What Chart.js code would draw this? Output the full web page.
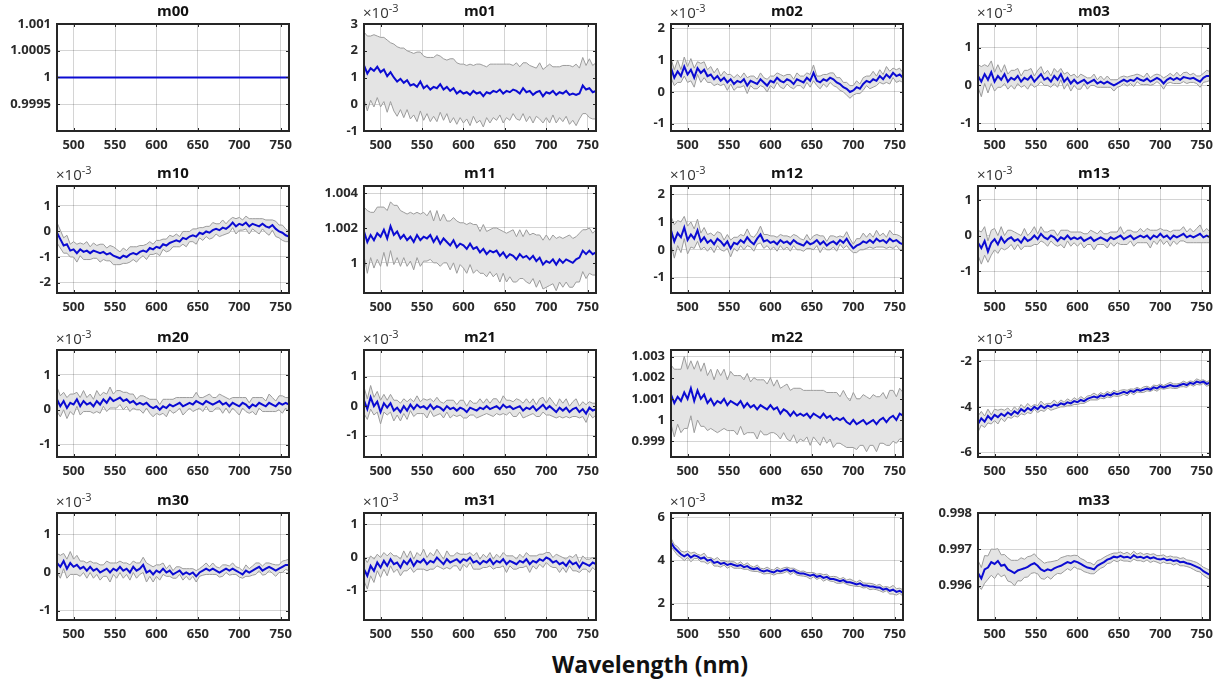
<!DOCTYPE html>
<html>
<head>
<meta charset="utf-8">
<script src="https://cdn.jsdelivr.net/npm/chart.js@4.4.1/dist/chart.umd.min.js"></script>
<style>
  body { margin: 0; background: #fff; width: 1230px; height: 688px; position: relative; overflow: hidden; font-family: 'Open Sans', sans-serif; }
  canvas { position: absolute; }
  .ttl { position: absolute; width: 120px; text-align: center; font-weight: 700; font-size: 15px; line-height: 16px; color: #111; }
  .exp { position: absolute; font-size: 15px; line-height: 16px; color: #333; white-space: nowrap; }
  .exp sup { font-size: 11px; vertical-align: 0; position: relative; top: -6px; }
  #xlab { position: absolute; left: 0; width: 1300px; top: 648px; text-align: center; font-weight: 700; font-size: 23px; color: #111; }
</style>
</head>
<body>
<div id="xlab">Wavelength (nm)</div>
<script>
// wavelength grid (nm)
const wavelengths = [480,484,488,492,496,500,504,508,512,516,520,524,528,532,536,540,544,548,552,556,
  560,564,568,572,576,580,584,588,592,596,600,604,608,612,616,620,624,628,632,636,
  640,644,648,652,656,660,664,668,672,676,680,684,688,692,696,700,704,708,712,716,
  720,724,728,732,736,740,744,748,752,756,760];
const xTicks = [500, 550, 600, 650, 700, 750];

// m00 is flat
const m00Wave = [480, 760];
const m00Mean = [1, 1];
const m00Sd = [0, 0];

// mean and std per element (x1e-3 where the axis says so)
const m01Mean = [1.45,1.15,1.35,1.25,1.4,1.2,1.3,1.05,1.2,1.0,
  0.85,0.95,0.8,0.9,0.7,0.75,0.65,0.85,0.6,0.7,
  0.55,0.65,0.6,0.75,0.55,0.65,0.5,0.6,0.4,0.5,
  0.4,0.45,0.35,0.5,0.4,0.45,0.3,0.45,0.4,0.5,
  0.45,0.55,0.4,0.5,0.45,0.55,0.5,0.4,0.6,0.45,
  0.5,0.35,0.45,0.5,0.3,0.45,0.4,0.5,0.35,0.45,
  0.4,0.5,0.35,0.4,0.35,0.4,0.7,0.55,0.6,0.45,0.5];
const m01Sd = [1.25,1.4,1.2,1.35,1.15,1.3,1.2,1.35,1.1,1.25,
  1.3,1.15,1.3,1.1,1.25,1.15,1.3,1.1,1.2,1.05,
  1.2,1.1,1.25,1.05,1.15,1.0,1.2,1.1,1.15,1.0,
  1.1,1.0,1.15,0.95,1.1,1.05,1.15,0.95,1.1,1.0,
  1.05,0.95,1.1,1.0,1.05,0.9,1.05,1.0,0.95,1.1,
  0.95,1.05,0.9,1.05,1.0,0.95,1.1,0.9,1.05,0.95,
  1.05,0.95,1.1,1.0,1.15,0.95,1.05,0.9,1.1,1.0,1.05];

const m02Mean = [0.75,0.45,0.65,0.5,0.8,0.55,0.7,0.45,0.75,0.6,
  0.7,0.5,0.55,0.4,0.5,0.35,0.45,0.3,0.4,0.25,
  0.35,0.3,0.4,0.2,0.35,0.3,0.25,0.4,0.3,0.2,
  0.35,0.3,0.45,0.35,0.3,0.4,0.35,0.25,0.4,0.35,
  0.3,0.45,0.35,0.6,0.35,0.3,0.4,0.35,0.45,0.4,
  0.3,0.25,0.15,0.1,0.0,0.05,0.15,0.1,0.25,0.35,
  0.3,0.4,0.35,0.5,0.4,0.55,0.45,0.6,0.5,0.55,0.45];
const m02Sd = [0.3,0.25,0.35,0.2,0.3,0.25,0.35,0.3,0.2,0.3,
  0.25,0.2,0.25,0.2,0.25,0.15,0.2,0.25,0.15,0.2,
  0.2,0.15,0.2,0.25,0.15,0.2,0.15,0.2,0.15,0.2,
  0.15,0.2,0.15,0.2,0.2,0.15,0.2,0.15,0.2,0.15,
  0.2,0.15,0.2,0.25,0.15,0.2,0.15,0.2,0.15,0.2,
  0.15,0.2,0.15,0.2,0.2,0.15,0.2,0.15,0.2,0.15,
  0.2,0.25,0.15,0.2,0.15,0.25,0.2,0.15,0.2,0.2,0.15];

const m03Mean = [0.25,0.1,0.3,0.15,0.35,0.1,0.25,0.15,0.3,0.1,
  0.2,0.15,0.25,0.1,0.2,0.15,0.25,0.1,0.2,0.3,
  0.15,0.2,0.1,0.25,0.15,0.3,0.1,0.2,0.05,0.15,
  0.05,0.1,0.15,0.05,0.1,0.15,0.05,0.1,0.05,0.1,
  0.05,0.0,0.05,0.1,0.15,0.1,0.15,0.12,0.2,0.15,
  0.12,0.18,0.1,0.15,0.2,0.15,0.05,0.15,0.2,0.15,
  0.2,0.15,0.22,0.2,0.18,0.2,0.15,0.1,0.2,0.25,0.25];
const m03Sd = [0.3,0.4,0.25,0.35,0.3,0.25,0.3,0.2,0.25,0.2,
  0.2,0.25,0.2,0.15,0.2,0.25,0.2,0.15,0.2,0.2,
  0.15,0.2,0.15,0.2,0.2,0.15,0.2,0.15,0.2,0.15,
  0.15,0.2,0.1,0.15,0.1,0.15,0.1,0.15,0.1,0.15,
  0.1,0.15,0.1,0.12,0.1,0.12,0.1,0.15,0.1,0.12,
  0.1,0.15,0.1,0.12,0.1,0.12,0.15,0.1,0.12,0.1,
  0.15,0.1,0.12,0.15,0.1,0.12,0.1,0.15,0.12,0.15,0.12];

const m10Mean = [-0.05,-0.3,-0.55,-0.5,-0.75,-0.7,-0.85,-0.7,-0.8,-0.75,
  -0.85,-0.75,-0.8,-0.85,-0.8,-0.9,-0.85,-0.95,-1.0,-1.05,
  -0.95,-1.0,-0.9,-0.85,-0.9,-0.8,-0.75,-0.8,-0.65,-0.7,
  -0.6,-0.65,-0.5,-0.55,-0.45,-0.4,-0.35,-0.4,-0.25,-0.3,
  -0.2,-0.15,-0.2,-0.05,-0.1,0.0,-0.05,0.05,0.1,0.05,
  0.15,0.1,0.2,0.35,0.2,0.3,0.25,0.35,0.2,0.3,
  0.25,0.2,0.3,0.2,0.15,0.25,0.1,0.0,-0.05,-0.15,-0.2];
const m10Sd = [0.4,0.35,0.3,0.35,0.25,0.3,0.35,0.25,0.3,0.35,
  0.25,0.3,0.25,0.35,0.3,0.25,0.3,0.35,0.3,0.25,
  0.3,0.25,0.3,0.25,0.3,0.25,0.2,0.3,0.25,0.2,
  0.25,0.3,0.2,0.25,0.3,0.2,0.25,0.2,0.25,0.3,
  0.2,0.25,0.3,0.2,0.25,0.2,0.25,0.3,0.2,0.25,
  0.3,0.2,0.25,0.2,0.3,0.25,0.2,0.25,0.3,0.2,
  0.25,0.3,0.2,0.25,0.3,0.2,0.3,0.25,0.3,0.25,0.2];

const m11Mean = [1.0018,1.0012,1.0016,1.0013,1.0017,1.0015,1.0019,1.0014,1.0021,1.0016,
  1.0018,1.0014,1.0016,1.0013,1.0015,1.0012,1.0016,1.0013,1.0015,1.0014,
  1.0016,1.0012,1.0015,1.0011,1.0014,1.0012,1.0010,1.0013,1.0009,1.0011,
  1.0010,1.0008,1.0011,1.0008,1.0009,1.0006,1.0008,1.0005,1.0007,1.0006,
  1.0007,1.0004,1.0006,1.0003,1.0005,1.0004,1.0002,1.0005,1.0003,1.0004,
  1.0002,1.0004,1.0001,1.0003,0.9999,1.0001,1.0000,1.0002,0.9999,1.0002,
  1.0000,1.0002,1.0001,1.0000,1.0002,1.0003,1.0007,1.0005,1.0007,1.0005,1.0006];
const m11Sd = [0.0014,0.0018,0.0013,0.0016,0.0015,0.0017,0.0013,0.0016,0.0014,0.0017,
  0.0015,0.0016,0.0013,0.0015,0.0014,0.0016,0.0013,0.0015,0.0014,0.0013,
  0.0014,0.0012,0.0015,0.0013,0.0014,0.0012,0.0014,0.0013,0.0015,0.0012,
  0.0013,0.0014,0.0012,0.0014,0.0013,0.0012,0.0014,0.0013,0.0012,0.0014,
  0.0013,0.0015,0.0012,0.0014,0.0013,0.0015,0.0013,0.0014,0.0012,0.0015,
  0.0014,0.0013,0.0015,0.0013,0.0014,0.0015,0.0013,0.0014,0.0015,0.0013,
  0.0014,0.0013,0.0015,0.0014,0.0013,0.0014,0.0012,0.0014,0.0013,0.0012,0.0013];

const m12Mean = [0.7,0.3,0.6,0.45,0.8,0.35,0.55,0.4,0.7,0.3,
  0.45,0.25,0.35,0.2,0.4,0.3,0.15,0.3,0.05,0.25,
  0.2,0.35,0.25,0.45,0.3,0.2,0.4,0.55,0.3,0.35,
  0.25,0.3,0.2,0.35,0.25,0.3,0.2,0.35,0.25,0.2,
  0.15,0.3,0.2,0.25,0.35,0.2,0.3,0.15,0.25,0.3,
  0.2,0.35,0.25,0.4,0.2,0.05,0.15,0.2,0.3,0.25,
  0.35,0.25,0.4,0.3,0.35,0.25,0.4,0.3,0.35,0.25,0.2];
const m12Sd = [0.5,0.6,0.45,0.55,0.4,0.5,0.45,0.35,0.4,0.3,
  0.35,0.3,0.25,0.3,0.25,0.3,0.2,0.25,0.3,0.2,
  0.25,0.2,0.25,0.3,0.2,0.25,0.2,0.3,0.25,0.2,
  0.25,0.2,0.25,0.2,0.25,0.2,0.25,0.2,0.25,0.2,
  0.2,0.25,0.15,0.25,0.2,0.3,0.2,0.15,0.25,0.2,
  0.25,0.15,0.2,0.25,0.2,0.15,0.25,0.2,0.3,0.2,
  0.25,0.2,0.3,0.2,0.25,0.2,0.3,0.25,0.2,0.25,0.2];

const m13Mean = [-0.2,-0.35,-0.15,-0.45,-0.2,-0.1,-0.25,-0.05,-0.2,-0.1,
  -0.05,-0.15,-0.1,-0.2,-0.05,-0.15,-0.1,0.0,-0.1,0.05,
  -0.05,-0.1,0.0,-0.05,-0.15,-0.05,-0.1,0.0,-0.1,-0.05,
  -0.1,-0.05,-0.15,-0.1,-0.05,-0.15,-0.1,-0.05,-0.1,-0.15,
  -0.05,-0.1,-0.05,0.0,-0.1,-0.05,0.0,-0.1,-0.05,0.0,
  -0.05,0.0,-0.1,0.0,-0.05,0.05,-0.05,0.0,-0.1,0.0,
  -0.05,0.0,0.05,-0.05,0.0,-0.05,0.0,0.05,-0.05,0.0,-0.05];
const m13Sd = [0.35,0.45,0.4,0.3,0.35,0.3,0.25,0.3,0.2,0.25,
  0.2,0.25,0.15,0.2,0.25,0.15,0.2,0.25,0.15,0.2,
  0.15,0.2,0.15,0.2,0.15,0.2,0.25,0.15,0.2,0.15,
  0.2,0.15,0.2,0.15,0.2,0.25,0.15,0.2,0.15,0.2,
  0.15,0.2,0.15,0.25,0.15,0.2,0.15,0.2,0.15,0.2,
  0.15,0.2,0.25,0.15,0.2,0.15,0.2,0.15,0.2,0.15,
  0.2,0.15,0.2,0.15,0.2,0.15,0.2,0.25,0.15,0.2,0.15];

const m20Mean = [0.3,0.1,0.25,0.05,0.2,0.15,0.3,0.1,0.25,0.15,
  0.2,0.1,0.25,0.15,0.3,0.2,0.35,0.25,0.3,0.35,
  0.25,0.3,0.2,0.25,0.15,0.2,0.15,0.2,0.1,0.05,
  0.1,0.0,0.1,0.05,0.15,0.1,0.15,0.2,0.1,0.15,
  0.2,0.15,0.25,0.2,0.15,0.25,0.2,0.15,0.2,0.25,
  0.15,0.2,0.1,0.2,0.15,0.1,0.2,0.15,0.05,0.15,
  0.1,0.2,0.15,0.1,0.2,0.15,0.1,0.2,0.15,0.2,0.15];
const m20Sd = [0.35,0.3,0.25,0.3,0.25,0.3,0.2,0.25,0.3,0.2,
  0.25,0.2,0.3,0.25,0.2,0.25,0.3,0.2,0.25,0.2,
  0.25,0.2,0.25,0.2,0.15,0.2,0.25,0.15,0.2,0.25,
  0.2,0.15,0.2,0.25,0.15,0.2,0.2,0.15,0.25,0.2,
  0.15,0.2,0.25,0.15,0.2,0.15,0.25,0.2,0.15,0.2,
  0.25,0.15,0.2,0.15,0.2,0.25,0.15,0.2,0.15,0.2,
  0.25,0.15,0.2,0.15,0.25,0.2,0.15,0.2,0.25,0.15,0.2];

const m21Mean = [0.2,-0.1,0.3,0.0,0.15,-0.2,0.1,-0.05,0.1,-0.15,
  -0.05,-0.2,0.0,-0.15,0.05,-0.1,0.05,-0.05,0.0,-0.1,
  0.05,-0.1,0.0,-0.05,-0.15,0.0,-0.1,-0.05,-0.15,-0.05,
  -0.1,-0.2,-0.05,-0.1,-0.15,-0.05,-0.1,0.0,-0.1,-0.05,
  0.0,-0.1,0.05,-0.05,0.0,-0.1,-0.05,0.0,-0.15,-0.05,
  -0.1,0.0,-0.15,-0.05,0.05,-0.1,0.0,-0.1,-0.2,-0.05,
  -0.15,-0.05,-0.2,-0.1,-0.05,-0.2,-0.1,-0.25,-0.05,-0.15,-0.1];
const m21Sd = [0.45,0.35,0.4,0.3,0.35,0.4,0.3,0.25,0.3,0.35,
  0.25,0.3,0.25,0.3,0.2,0.25,0.3,0.2,0.25,0.3,
  0.2,0.25,0.3,0.2,0.25,0.2,0.3,0.25,0.2,0.25,
  0.3,0.2,0.25,0.2,0.25,0.3,0.2,0.25,0.2,0.3,
  0.25,0.2,0.3,0.25,0.2,0.25,0.3,0.2,0.25,0.3,
  0.2,0.25,0.2,0.3,0.25,0.2,0.3,0.25,0.2,0.3,
  0.25,0.3,0.2,0.25,0.3,0.2,0.25,0.3,0.2,0.25,0.2];

const m22Mean = [1.0012,1.0008,1.0011,1.0009,1.0013,1.0010,1.0015,1.0009,1.0014,1.0010,
  1.0012,1.0008,1.0010,1.0007,1.0009,1.0008,1.0010,1.0007,1.0009,1.0008,
  1.0007,1.0009,1.0006,1.0008,1.0006,1.0007,1.0005,1.0007,1.0006,1.0005,
  1.0007,1.0005,1.0006,1.0003,1.0005,1.0004,1.0002,1.0004,1.0002,1.0003,
  1.0002,1.0003,1.0001,1.0003,1.0002,1.0001,1.0003,1.0001,1.0002,1.0000,
  1.0001,1.0000,1.0001,0.9999,0.9998,1.0000,0.9998,0.9999,1.0000,0.9998,
  0.9999,1.0000,0.9998,1.0000,1.0001,0.9999,1.0001,1.0002,1.0000,1.0003,1.0002];
const m22Sd = [0.0014,0.0016,0.0013,0.0015,0.0017,0.0014,0.0013,0.0015,0.0014,0.0013,
  0.0015,0.0013,0.0014,0.0012,0.0015,0.0013,0.0014,0.0012,0.0014,0.0013,
  0.0014,0.0012,0.0013,0.0014,0.0012,0.0013,0.0014,0.0012,0.0013,0.0012,
  0.0013,0.0011,0.0013,0.0012,0.0011,0.0013,0.0012,0.0011,0.0013,0.0012,
  0.0012,0.0011,0.0013,0.0011,0.0012,0.0013,0.0011,0.0012,0.0011,0.0013,
  0.0012,0.0011,0.0013,0.0012,0.0011,0.0013,0.0012,0.0011,0.0012,0.0013,
  0.0011,0.0012,0.0013,0.0011,0.0012,0.0011,0.0013,0.0012,0.0011,0.0012,0.0011];

const m23Mean = [-4.75,-4.5,-4.65,-4.4,-4.55,-4.35,-4.45,-4.3,-4.4,-4.25,
  -4.35,-4.2,-4.3,-4.1,-4.2,-4.05,-4.15,-4.0,-4.1,-3.95,
  -4.05,-3.95,-4.0,-3.9,-3.95,-3.85,-3.9,-3.8,-3.85,-3.75,
  -3.8,-3.7,-3.75,-3.65,-3.6,-3.55,-3.6,-3.5,-3.55,-3.45,
  -3.5,-3.4,-3.45,-3.4,-3.35,-3.4,-3.3,-3.35,-3.25,-3.3,
  -3.25,-3.2,-3.25,-3.15,-3.2,-3.1,-3.15,-3.1,-3.05,-3.1,
  -3.1,-3.05,-3.0,-3.05,-2.95,-3.0,-2.9,-2.95,-2.9,-3.0,-2.95];
const m23Sd = [0.35,0.3,0.25,0.3,0.2,0.25,0.3,0.2,0.25,0.2,
  0.15,0.2,0.15,0.2,0.15,0.2,0.15,0.1,0.15,0.2,
  0.15,0.1,0.15,0.2,0.1,0.15,0.1,0.15,0.1,0.15,
  0.1,0.15,0.1,0.12,0.1,0.15,0.1,0.12,0.1,0.12,
  0.1,0.12,0.1,0.12,0.1,0.12,0.08,0.12,0.1,0.08,
  0.12,0.1,0.08,0.1,0.12,0.1,0.08,0.1,0.12,0.1,
  0.1,0.08,0.12,0.1,0.08,0.1,0.12,0.1,0.08,0.1,0.1];

const m30Mean = [0.25,0.15,0.3,0.1,0.25,0.15,0.2,0.1,0.15,0.05,
  0.15,0.05,0.1,0.0,0.05,0.1,0.0,0.1,0.05,0.15,
  0.05,0.1,0.0,0.15,0.05,0.1,0.2,0.0,0.05,-0.05,
  0.05,0.0,0.1,0.0,0.05,-0.05,0.0,0.05,-0.05,0.0,
  -0.05,0.0,-0.1,0.0,0.05,0.1,0.05,0.1,0.05,0.0,
  0.05,0.1,0.05,0.1,0.05,0.0,-0.05,0.05,0.0,0.05,
  0.1,0.15,0.05,0.1,0.15,0.1,0.05,0.1,0.15,0.2,0.2];
const m30Sd = [0.25,0.3,0.2,0.25,0.3,0.2,0.25,0.2,0.15,0.2,
  0.15,0.2,0.15,0.2,0.15,0.2,0.25,0.15,0.2,0.15,
  0.2,0.15,0.2,0.15,0.2,0.15,0.2,0.25,0.15,0.2,
  0.15,0.2,0.15,0.1,0.15,0.1,0.15,0.1,0.15,0.1,
  0.15,0.1,0.15,0.1,0.12,0.15,0.1,0.15,0.1,0.12,
  0.15,0.1,0.12,0.15,0.1,0.12,0.1,0.15,0.1,0.12,
  0.15,0.1,0.12,0.15,0.1,0.12,0.15,0.1,0.15,0.12,0.15];

const m31Mean = [-0.35,-0.55,-0.25,-0.4,-0.15,-0.3,-0.1,-0.25,-0.05,-0.2,
  -0.15,-0.3,-0.1,-0.2,-0.05,-0.25,-0.1,-0.15,-0.05,-0.2,
  -0.1,-0.15,0.0,-0.1,-0.2,-0.05,-0.15,-0.1,-0.05,-0.15,
  -0.05,-0.1,0.0,-0.15,-0.1,-0.2,-0.1,-0.15,-0.05,-0.2,
  -0.1,-0.15,-0.05,-0.2,-0.1,-0.15,-0.2,-0.1,-0.15,-0.05,
  -0.2,-0.1,-0.15,-0.05,-0.1,0.0,-0.05,-0.15,-0.1,-0.2,
  -0.15,-0.25,-0.1,-0.2,-0.15,-0.3,-0.15,-0.2,-0.25,-0.15,-0.2];
const m31Sd = [0.35,0.4,0.3,0.35,0.25,0.3,0.25,0.3,0.2,0.25,
  0.2,0.25,0.3,0.2,0.25,0.2,0.25,0.2,0.3,0.2,
  0.25,0.2,0.25,0.2,0.15,0.25,0.2,0.15,0.2,0.25,
  0.15,0.2,0.15,0.2,0.25,0.15,0.2,0.15,0.2,0.15,
  0.2,0.15,0.2,0.25,0.15,0.2,0.15,0.2,0.15,0.2,
  0.25,0.15,0.2,0.15,0.2,0.15,0.2,0.15,0.2,0.25,
  0.15,0.2,0.15,0.2,0.25,0.15,0.2,0.15,0.2,0.15,0.2];

const m32Mean = [4.85,4.6,4.45,4.3,4.2,4.3,4.15,4.25,4.2,4.1,
  4.15,4.0,4.05,3.9,3.95,3.85,3.9,3.8,3.85,3.8,
  3.75,3.8,3.7,3.75,3.65,3.6,3.65,3.55,3.5,3.55,
  3.5,3.45,3.55,3.5,3.55,3.6,3.5,3.55,3.45,3.4,
  3.4,3.35,3.3,3.35,3.25,3.3,3.2,3.25,3.15,3.15,
  3.1,3.05,3.1,3.0,3.0,2.95,2.9,2.95,2.85,2.85,
  2.8,2.8,2.75,2.75,2.65,2.7,2.6,2.65,2.55,2.6,2.5];
const m32Sd = [0.2,0.15,0.2,0.15,0.2,0.15,0.2,0.15,0.1,0.15,
  0.2,0.15,0.1,0.15,0.2,0.15,0.1,0.15,0.1,0.15,
  0.1,0.15,0.1,0.15,0.12,0.1,0.15,0.1,0.12,0.15,
  0.1,0.12,0.15,0.1,0.12,0.1,0.15,0.1,0.12,0.1,
  0.12,0.1,0.15,0.1,0.12,0.1,0.15,0.12,0.1,0.12,
  0.15,0.1,0.12,0.1,0.15,0.12,0.1,0.15,0.12,0.1,
  0.15,0.12,0.1,0.15,0.12,0.1,0.15,0.2,0.15,0.12,0.15];

const m33Mean = [0.99635,0.99620,0.99645,0.99650,0.99665,0.99660,0.99668,0.99655,0.99658,0.99645,
  0.99640,0.99635,0.99642,0.99645,0.99648,0.99652,0.99658,0.99662,0.99655,0.99645,
  0.99640,0.99645,0.99642,0.99648,0.99652,0.99655,0.99660,0.99665,0.99662,0.99668,
  0.99665,0.99660,0.99655,0.99650,0.99648,0.99645,0.99655,0.99660,0.99665,0.99672,
  0.99675,0.99680,0.99678,0.99682,0.99678,0.99680,0.99676,0.99684,0.99678,0.99680,
  0.99676,0.99680,0.99675,0.99678,0.99674,0.99672,0.99675,0.99670,0.99672,0.99668,
  0.99670,0.99665,0.99666,0.99662,0.99660,0.99656,0.99652,0.99648,0.99640,0.99635,0.99630];
const m33Sd = [0.00035,0.00030,0.00038,0.00032,0.00036,0.00040,0.00034,0.00030,0.00028,0.00032,
  0.00030,0.00035,0.00028,0.00032,0.00025,0.00028,0.00024,0.00026,0.00022,0.00025,
  0.00022,0.00020,0.00024,0.00020,0.00018,0.00022,0.00020,0.00018,0.00020,0.00016,
  0.00018,0.00015,0.00016,0.00014,0.00015,0.00012,0.00014,0.00012,0.00013,0.00011,
  0.00012,0.00010,0.00012,0.00011,0.00010,0.00012,0.00010,0.00011,0.00009,0.00011,
  0.00010,0.00009,0.00011,0.00010,0.00009,0.00011,0.00010,0.00009,0.00010,0.00011,
  0.00009,0.00010,0.00011,0.00009,0.00010,0.00011,0.00012,0.00010,0.00011,0.00012,0.00012];

// subplot placement (plot box) and y axes
const colLeft = [57, 364, 671, 978];
const rowTop = [24, 186, 350, 513];
const boxW = 232, boxH = 107;

const panels = [
  { name: 'm00', c: 0, r: 0, w: m00Wave, mean: m00Mean, sd: m00Sd, yMin: 0.999, yMax: 1.001, yTicks: [0.9995, 1, 1.0005, 1.001], exp: false },
  { name: 'm01', c: 1, r: 0, w: wavelengths, mean: m01Mean, sd: m01Sd, yMin: -1, yMax: 3, yTicks: [-1, 0, 1, 2, 3], exp: true },
  { name: 'm02', c: 2, r: 0, w: wavelengths, mean: m02Mean, sd: m02Sd, yMin: -1.23, yMax: 2.14, yTicks: [-1, 0, 1, 2], exp: true },
  { name: 'm03', c: 3, r: 0, w: wavelengths, mean: m03Mean, sd: m03Sd, yMin: -1.21, yMax: 1.63, yTicks: [-1, 0, 1], exp: true },
  { name: 'm10', c: 0, r: 1, w: wavelengths, mean: m10Mean, sd: m10Sd, yMin: -2.41, yMax: 1.78, yTicks: [-2, -1, 0, 1], exp: true },
  { name: 'm11', c: 1, r: 1, w: wavelengths, mean: m11Mean, sd: m11Sd, yMin: 0.99827, yMax: 1.00441, yTicks: [1, 1.002, 1.004], exp: false },
  { name: 'm12', c: 2, r: 1, w: wavelengths, mean: m12Mean, sd: m12Sd, yMin: -1.55, yMax: 2.29, yTicks: [-1, 0, 1, 2], exp: true },
  { name: 'm13', c: 3, r: 1, w: wavelengths, mean: m13Mean, sd: m13Sd, yMin: -1.61, yMax: 1.39, yTicks: [-1, 0, 1], exp: true },
  { name: 'm20', c: 0, r: 2, w: wavelengths, mean: m20Mean, sd: m20Sd, yMin: -1.35, yMax: 1.71, yTicks: [-1, 0, 1], exp: true },
  { name: 'm21', c: 1, r: 2, w: wavelengths, mean: m21Mean, sd: m21Sd, yMin: -1.72, yMax: 1.9, yTicks: [-1, 0, 1], exp: true },
  { name: 'm22', c: 2, r: 2, w: wavelengths, mean: m22Mean, sd: m22Sd, yMin: 0.99825, yMax: 1.00331, yTicks: [0.999, 1, 1.001, 1.002, 1.003], exp: false },
  { name: 'm23', c: 3, r: 2, w: wavelengths, mean: m23Mean, sd: m23Sd, yMin: -6.19, yMax: -1.52, yTicks: [-6, -4, -2], exp: true },
  { name: 'm30', c: 0, r: 3, w: wavelengths, mean: m30Mean, sd: m30Sd, yMin: -1.245, yMax: 1.56, yTicks: [-1, 0, 1], exp: true },
  { name: 'm31', c: 1, r: 3, w: wavelengths, mean: m31Mean, sd: m31Sd, yMin: -1.88, yMax: 1.34, yTicks: [-1, 0, 1], exp: true },
  { name: 'm32', c: 2, r: 3, w: wavelengths, mean: m32Mean, sd: m32Sd, yMin: 1.24, yMax: 6.22, yTicks: [2, 4, 6], exp: true },
  { name: 'm33', c: 3, r: 3, w: wavelengths, mean: m33Mean, sd: m33Sd, yMin: 0.99506, yMax: 0.998, yTicks: [0.996, 0.997, 0.998], exp: false }
];

const padL = 62, padT = 22, padR = 14, padB = 30;
const tickFont = { family: "'Open Sans', sans-serif", size: 13, weight: 'bold' };

// black box with inward ticks, matlab style
const boxFrame = {
  id: 'boxFrame',
  afterDraw(chart) {
    const { ctx, chartArea: a, scales } = chart;
    ctx.save();
    ctx.strokeStyle = '#262626';
    ctx.lineWidth = 1;
    ctx.beginPath();
    scales.x.ticks.forEach(t => {
      const px = Math.round(scales.x.getPixelForValue(t.value)) + 0.5;
      ctx.moveTo(px, a.bottom); ctx.lineTo(px, a.bottom - 3);
      ctx.moveTo(px, a.top); ctx.lineTo(px, a.top + 3);
    });
    scales.y.ticks.forEach(t => {
      const py = Math.round(scales.y.getPixelForValue(t.value)) + 0.5;
      ctx.moveTo(a.left, py); ctx.lineTo(a.left + 3, py);
      ctx.moveTo(a.right, py); ctx.lineTo(a.right - 3, py);
    });
    ctx.stroke();
    ctx.lineWidth = 2;
    ctx.strokeRect(a.left, a.top, a.right - a.left, a.bottom - a.top);
    ctx.restore();
  }
};

function fmt(v) {
  return String(+v.toFixed(5));
}

panels.forEach(p => {
  const left = colLeft[p.c], top = rowTop[p.r];

  const cv = document.createElement('canvas');
  cv.width = padL + boxW + padR;
  cv.height = padT + boxH + padB;
  cv.style.left = (left - padL) + 'px';
  cv.style.top = (top - padT) + 'px';
  cv.style.width = cv.width + 'px';
  cv.style.height = cv.height + 'px';
  document.body.appendChild(cv);

  const ttl = document.createElement('div');
  ttl.className = 'ttl';
  ttl.textContent = p.name;
  ttl.style.left = (left + boxW / 2 - 60) + 'px';
  ttl.style.top = (top - 22) + 'px';
  document.body.appendChild(ttl);

  if (p.exp) {
    const ex = document.createElement('div');
    ex.className = 'exp';
    ex.innerHTML = '&times;10<sup>-3</sup>';
    ex.style.left = (left - 1) + 'px';
    ex.style.top = (top - 20) + 'px';
    document.body.appendChild(ex);
  }

  const upper = p.mean.map((v, i) => v + p.sd[i]);
  const lower = p.mean.map((v, i) => v - p.sd[i]);
  const pts = arr => arr.map((v, i) => ({ x: p.w[i], y: v }));

  new Chart(cv, {
    type: 'line',
    data: {
      datasets: [
        { data: pts(p.mean), borderColor: '#0b0bd2', borderWidth: 2, pointRadius: 0, fill: false },
        { data: pts(upper), borderColor: '#9c9c9c', borderWidth: 1, pointRadius: 0, fill: '+1', backgroundColor: '#e4e4e4' },
        { data: pts(lower), borderColor: '#9c9c9c', borderWidth: 1, pointRadius: 0, fill: false }
      ]
    },
    options: {
      responsive: false,
      animation: false,
      devicePixelRatio: 1,
      layout: { padding: { top: padT, right: padR, left: 0, bottom: 0 } },
      plugins: {
        legend: { display: false },
        tooltip: { enabled: false },
        filler: { drawTime: 'beforeDatasetsDraw' }
      },
      scales: {
        x: {
          type: 'linear',
          min: 480, max: 760,
          bounds: 'data',
          afterBuildTicks: s => { s.ticks = xTicks.map(v => ({ value: v })); },
          afterFit: s => { s.height = padB; },
          grid: { color: 'rgba(0,0,0,0.17)', drawTicks: false },
          border: { display: false },
          ticks: { font: tickFont, color: '#2a2a2a', padding: 6, maxRotation: 0, autoSkip: false, callback: v => fmt(v) }
        },
        y: {
          type: 'linear',
          min: p.yMin, max: p.yMax,
          bounds: 'data',
          afterBuildTicks: s => { s.ticks = p.yTicks.map(v => ({ value: v })); },
          afterFit: s => { s.width = padL; },
          grid: { color: 'rgba(0,0,0,0.17)', drawTicks: false },
          border: { display: false },
          ticks: { font: tickFont, color: '#2a2a2a', padding: 6, autoSkip: false, callback: v => fmt(v) }
        }
      }
    },
    plugins: [boxFrame]
  });
});
</script>
</body>
</html>
